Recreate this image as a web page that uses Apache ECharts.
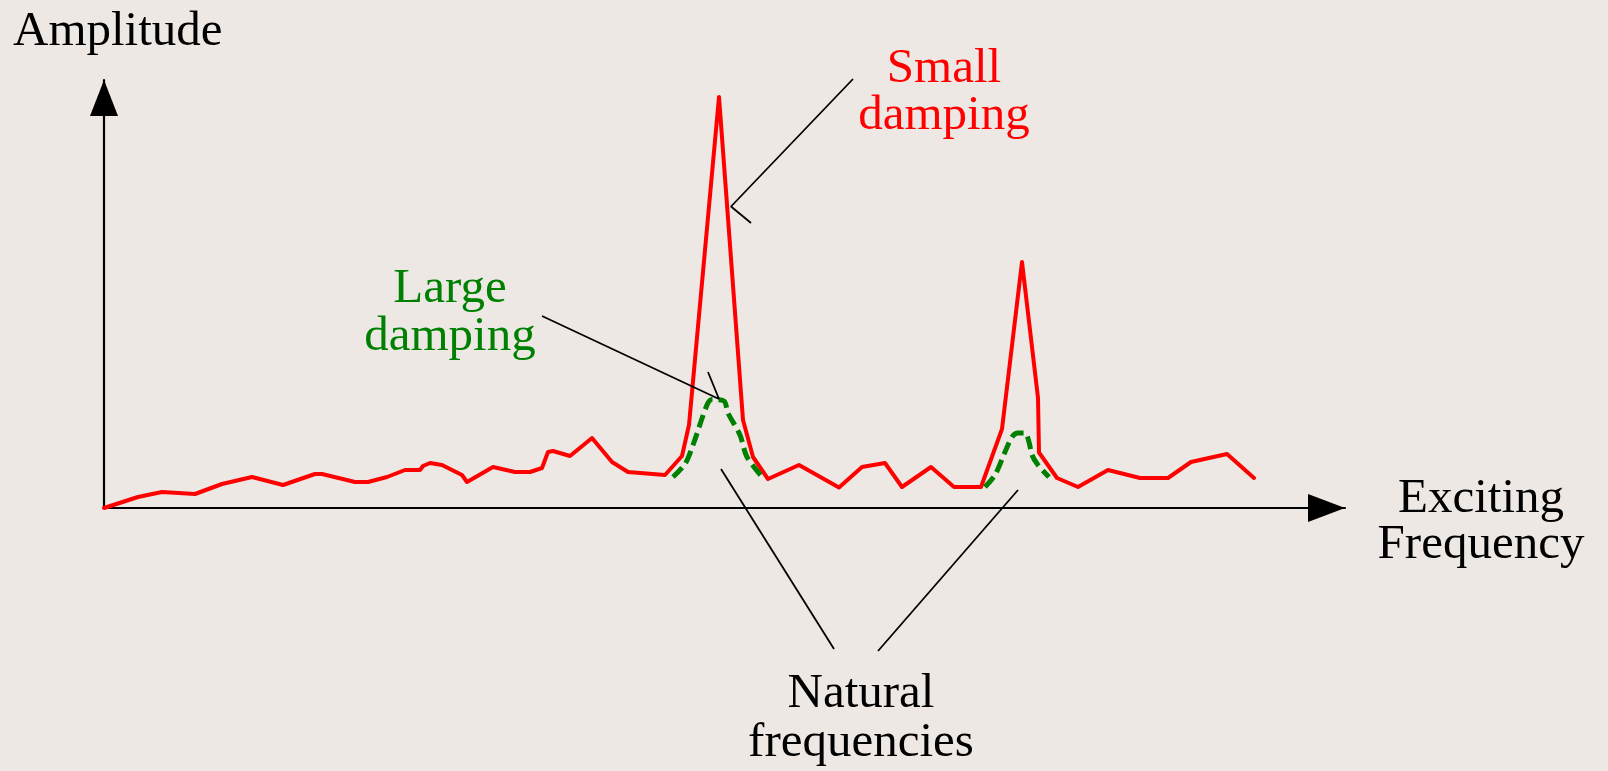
<!DOCTYPE html>
<html>
<head>
<meta charset="utf-8">
<script src="https://cdn.jsdelivr.net/npm/echarts@6/dist/echarts.min.js"></script>
<style>
  html, body { margin: 0; padding: 0; background: #ede8e4; }
  #chart { width: 1608px; height: 771px; }
</style>
</head>
<body>
<div id="chart"></div>
<script>
// Response curve, small damping: [exciting frequency, amplitude]
const smallDamping = [
  [0, 0], [3.4, 1.1], [5.8, 1.6], [9.1, 1.4], [11.8, 2.4], [14.8, 3.1],
  [17.9, 2.3], [21.1, 3.4], [21.8, 3.4], [25.1, 2.6], [26.4, 2.6], [28.3, 3.1],
  [30.1, 3.8], [31.6, 3.8], [31.9, 4.2], [32.6, 4.5], [33.8, 4.3], [35.8, 3.3],
  [36.3, 2.6], [38.9, 4.1], [41.1, 3.6], [42.6, 3.6], [43.8, 4.0], [44.4, 5.6],
  [44.9, 5.7], [46.6, 5.2], [48.8, 7.0], [50.8, 4.6], [52.4, 3.6], [56.1, 3.3],
  [57.8, 5.2], [58.5, 8.3], [61.5, 41.1], [63.9, 8.8], [64.9, 5.1], [66.4, 2.9],
  [69.5, 4.3], [73.5, 2.05], [75.8, 4.1], [78.1, 4.5], [79.8, 2.1], [82.7, 4.1],
  [85.0, 2.1], [87.7, 2.1], [89.8, 7.9], [91.8, 24.6], [93.4, 11.0], [93.5, 5.55],
  [95.3, 3.0], [97.4, 2.1], [100.4, 3.8], [103.6, 3.0], [106.4, 3.0], [108.7, 4.6],
  [112.3, 5.4], [115.0, 3.0]
];

// Large damping, around each natural frequency
const largeDampingPeak1 = [
  [56.9, 3.1], [58.1, 4.4], [58.9, 6.3], [60.3, 10.3], [60.8, 10.85],
  [62.0, 10.7], [62.4, 9.5], [63.6, 7.3], [64.3, 5.1], [65.9, 3.0]
];
const largeDampingPeak2 = [
  [88.1, 2.1], [89.1, 3.3], [90.1, 5.6], [90.8, 7.1], [91.4, 7.5],
  [92.1, 7.5], [92.5, 6.6], [92.8, 5.3], [93.4, 4.3], [94.5, 3.1]
];

// Pointer lines for the labels
const smallDampingPointer = [[74.9, 42.9], [62.7, 30.15], [64.7, 28.5]];
const largeDampingPointer = [[43.8, 19.2], [61.5, 10.9], [60.4, 13.6]];
const naturalPointerLeft = [[61.7, 3.9], [73.0, -14.1]];
const naturalPointerRight = [[91.4, 1.8], [77.4, -14.3]];

const chart = echarts.init(document.getElementById('chart'));

const serif = '"Liberation Serif", "Times New Roman", serif';

const pointer = (data) => ({
  type: 'line',
  data: data,
  showSymbol: false,
  clip: false,
  silent: true,
  lineStyle: { color: '#000', width: 1.8 }
});

const dashed = (data) => ({
  type: 'line',
  data: data,
  showSymbol: false,
  clip: false,
  smooth: 0.3,
  lineStyle: { color: '#008000', width: 5, type: [13, 6] }
});

chart.setOption({
  animation: false,
  backgroundColor: '#ede8e4',
  grid: { left: 104, right: 263, top: 80, bottom: 263 },
  xAxis: {
    type: 'value',
    min: 0,
    max: 124.1,
    axisLine: {
      onZero: true,
      lineStyle: { color: '#000', width: 2.2 },
      symbol: ['none', 'triangle'],
      symbolSize: [28, 37],
      symbolOffset: [0, -18.5]
    },
    axisTick: { show: false },
    axisLabel: { show: false },
    splitLine: { show: false }
  },
  yAxis: {
    type: 'value',
    min: 0,
    max: 42.8,
    axisLine: {
      show: true,
      lineStyle: { color: '#000', width: 2.2 },
      symbol: ['none', 'triangle'],
      symbolSize: [28, 36],
      symbolOffset: [0, -18]
    },
    axisTick: { show: false },
    axisLabel: { show: false },
    splitLine: { show: false }
  },
  series: [
    {
      name: 'Small damping',
      type: 'line',
      data: smallDamping,
      showSymbol: false,
      clip: false,
      lineStyle: { color: '#ff0000', width: 4, join: 'round', cap: 'round' }
    },
    dashed(largeDampingPeak1),
    dashed(largeDampingPeak2),
    pointer(smallDampingPointer),
    pointer(largeDampingPointer),
    pointer(naturalPointerLeft),
    pointer(naturalPointerRight)
  ],
  graphic: [
    {
      type: 'text', left: 13, top: 8,
      style: { text: 'Amplitude', font: '49px ' + serif, fill: '#000' }
    },
    {
      type: 'text', x: 944, y: 93,
      style: {
        text: 'Small\ndamping', font: '49px ' + serif, fill: '#ff0000',
        textAlign: 'center', textVerticalAlign: 'middle', lineHeight: 47
      }
    },
    {
      type: 'text', x: 450, y: 313,
      style: {
        text: 'Large\ndamping', font: '49px ' + serif, fill: '#008000',
        textAlign: 'center', textVerticalAlign: 'middle', lineHeight: 48
      }
    },
    {
      type: 'text', x: 1481, y: 522,
      style: {
        text: 'Exciting\nFrequency', font: '49px ' + serif, fill: '#000',
        textAlign: 'center', textVerticalAlign: 'middle', lineHeight: 46
      }
    },
    {
      type: 'text', x: 861, y: 719,
      style: {
        text: 'Natural\nfrequencies', font: '49px ' + serif, fill: '#000',
        textAlign: 'center', textVerticalAlign: 'middle', lineHeight: 49
      }
    }
  ]
});
</script>
</body>
</html>
